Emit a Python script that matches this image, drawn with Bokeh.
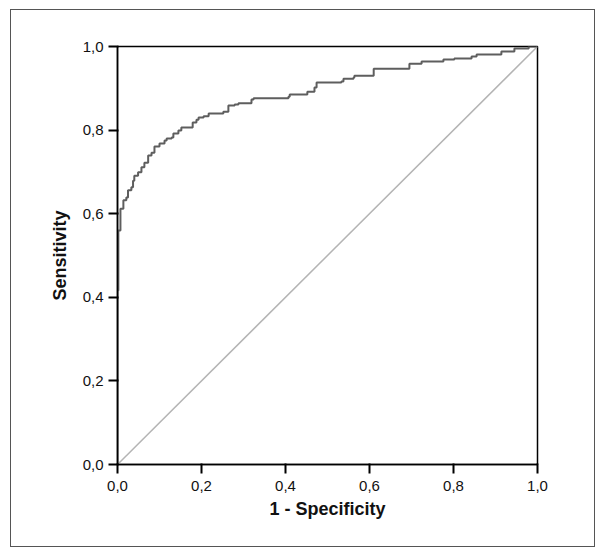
from bokeh.plotting import figure
from bokeh.models import Range1d, CustomJSTickFormatter, FixedTicker
from bokeh.embed import file_html
from bokeh.resources import INLINE

# ROC curve vertices (1 - specificity, sensitivity)
fpr = [0.0, 0.0, 0.002, 0.007, 0.014, 0.021, 0.025, 0.033, 0.037, 0.040, 0.049,
       0.057, 0.064, 0.073, 0.081, 0.088, 0.100, 0.112, 0.117, 0.129, 0.133,
       0.145, 0.152, 0.176, 0.179, 0.188, 0.193, 0.205, 0.217, 0.248, 0.252,
       0.262, 0.264, 0.279, 0.288, 0.319, 0.324, 0.390, 0.407, 0.410, 0.450,
       0.452, 0.469, 0.474, 0.517, 0.533, 0.538, 0.562, 0.564, 0.607, 0.610,
       0.693, 0.695, 0.724, 0.776, 0.802, 0.843, 0.855, 0.902, 0.914, 0.945,
       0.979, 1.0]
tpr = [0.0, 0.416, 0.560, 0.612, 0.632, 0.639, 0.656, 0.663, 0.679, 0.691, 0.699,
       0.711, 0.722, 0.739, 0.746, 0.761, 0.768, 0.775, 0.780, 0.782, 0.792,
       0.799, 0.806, 0.806, 0.818, 0.825, 0.830, 0.833, 0.840, 0.840, 0.844,
       0.844, 0.859, 0.861, 0.864, 0.873, 0.876, 0.876, 0.880, 0.885, 0.885,
       0.892, 0.902, 0.914, 0.914, 0.916, 0.923, 0.926, 0.930, 0.930, 0.947,
       0.947, 0.959, 0.964, 0.969, 0.971, 0.976, 0.981, 0.981, 0.988, 0.995,
       1.0, 1.0]
ref_x = [0.0, 1.0]
ref_y = [0.0, 1.0]
ticks = [0.0, 0.2, 0.4, 0.6, 0.8, 1.0]

p = figure(width=585, height=538, output_backend="svg", toolbar_location=None,
           x_range=Range1d(0, 1), y_range=Range1d(0, 1),
           min_border_left=106, min_border_right=59, min_border_top=36,
           min_border_bottom=84,
           styles={"border": "1px solid #555555", "margin-left": "10px", "margin-top": "9px"})
p.background_fill_color = "white"
p.border_fill_color = "white"
p.xgrid.visible = False
p.ygrid.visible = False
p.outline_line_color = "black"
p.outline_line_width = 1.5
p.outline_line_alpha = 1.0

fmt = CustomJSTickFormatter(code="return tick.toFixed(1).replace('.', ',');")
for ax in (p.xaxis[0], p.yaxis[0]):
    ax.ticker = FixedTicker(ticks=ticks, minor_ticks=[])
    ax.formatter = fmt
    ax.minor_tick_line_color = None
    ax.major_tick_in = 1
    ax.major_tick_out = 9
    ax.axis_line_color = "black"
    ax.axis_line_width = 1.5
    ax.major_tick_line_color = "#000000"
    ax.major_tick_line_alpha = 1.0
    ax.major_tick_line_width = 2
    ax.major_label_text_font = "Liberation Sans"
    ax.major_label_text_font_size = "15px"
    ax.major_label_text_color = "#111111"
    ax.axis_label_text_font = "Liberation Sans"
    ax.axis_label_text_font_size = "18px"
    ax.axis_label_text_font_style = "bold"
    ax.axis_label_text_color = "#111111"

p.xaxis.axis_label = "1 - Specificity"
p.yaxis.axis_label = "Sensitivity"
p.xaxis.major_label_standoff = 7
p.yaxis.major_label_standoff = 5
p.xaxis.axis_label_standoff = 5
p.yaxis.axis_label_standoff = 10
p.yaxis.major_label_orientation = "horizontal"

p.line(ref_x, ref_y, line_color="#b4b4b4", line_width=1.5)
p.step(fpr, tpr, mode="after", line_color="#5e5e5e", line_width=2)

open("out.html", "w").write(file_html(p, INLINE))
